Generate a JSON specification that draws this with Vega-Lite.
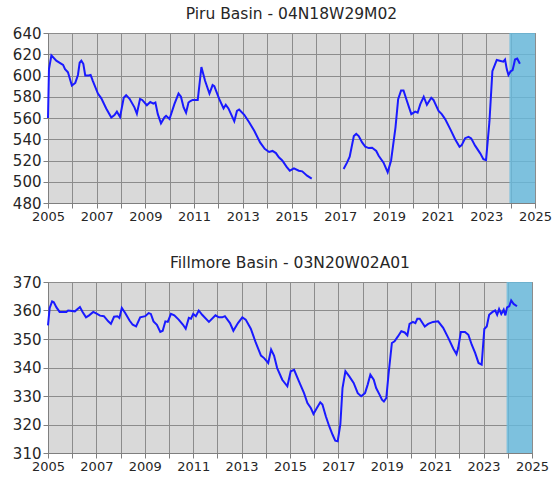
{
  "$schema": "https://vega.github.io/schema/vega-lite/v6.json",
  "background": "white",
  "padding": {"left": 11, "top": 6, "right": 10, "bottom": 2},
  "config": {
    "view": {"fill": "#d9d9d9", "stroke": "#8c8c8c"},
    "axis": {"gridColor": "#8c8c8c", "gridOpacity": 1, "domainColor": "#7f7f7f", "tickColor": "#7f7f7f", "labelColor": "#262626", "labelFont": "DejaVu Sans", "title": null, "labelFlush": false, "labelOverlap": false},
    "axisX": {"labelFontSize": 13},
    "axisY": {"labelFontSize": 15},
    "title": {"font": "DejaVu Sans", "fontSize": 15.5, "fontWeight": "normal", "color": "#262626"},
    "concat": {"spacing": 31}
  },
  "datasets": {
    "shade": [{"a": 2023.95, "b": 2025}],
    "piru": [
      {"t": 2005.0, "v": 560, "seg": 1}, {"t": 2005.04, "v": 606, "seg": 1}, {"t": 2005.14, "v": 619, "seg": 1}, {"t": 2005.34, "v": 614, "seg": 1},
      {"t": 2005.55, "v": 611, "seg": 1}, {"t": 2005.62, "v": 610, "seg": 1}, {"t": 2005.7, "v": 606, "seg": 1}, {"t": 2005.82, "v": 603, "seg": 1},
      {"t": 2005.98, "v": 590.5, "seg": 1}, {"t": 2006.12, "v": 593, "seg": 1}, {"t": 2006.23, "v": 600.5, "seg": 1}, {"t": 2006.3, "v": 612, "seg": 1},
      {"t": 2006.37, "v": 614, "seg": 1}, {"t": 2006.45, "v": 611, "seg": 1}, {"t": 2006.53, "v": 600, "seg": 1}, {"t": 2006.67, "v": 600, "seg": 1},
      {"t": 2006.75, "v": 600.5, "seg": 1}, {"t": 2006.84, "v": 595, "seg": 1}, {"t": 2007.05, "v": 583, "seg": 1}, {"t": 2007.19, "v": 578.5, "seg": 1},
      {"t": 2007.39, "v": 569, "seg": 1}, {"t": 2007.6, "v": 560.5, "seg": 1}, {"t": 2007.73, "v": 562.7, "seg": 1}, {"t": 2007.83, "v": 566, "seg": 1},
      {"t": 2007.96, "v": 561, "seg": 1}, {"t": 2008.11, "v": 579, "seg": 1}, {"t": 2008.21, "v": 581.5, "seg": 1}, {"t": 2008.35, "v": 578, "seg": 1},
      {"t": 2008.55, "v": 570, "seg": 1}, {"t": 2008.65, "v": 564, "seg": 1}, {"t": 2008.78, "v": 578, "seg": 1}, {"t": 2008.87, "v": 577, "seg": 1},
      {"t": 2009.06, "v": 572, "seg": 1}, {"t": 2009.2, "v": 575, "seg": 1}, {"t": 2009.33, "v": 573.6, "seg": 1}, {"t": 2009.41, "v": 574.6, "seg": 1},
      {"t": 2009.51, "v": 563.6, "seg": 1}, {"t": 2009.64, "v": 555, "seg": 1}, {"t": 2009.78, "v": 560.5, "seg": 1}, {"t": 2009.85, "v": 562, "seg": 1},
      {"t": 2009.99, "v": 559, "seg": 1}, {"t": 2010.19, "v": 573, "seg": 1}, {"t": 2010.36, "v": 583, "seg": 1}, {"t": 2010.46, "v": 580, "seg": 1},
      {"t": 2010.57, "v": 570, "seg": 1}, {"t": 2010.67, "v": 565, "seg": 1}, {"t": 2010.77, "v": 574.6, "seg": 1}, {"t": 2010.85, "v": 576, "seg": 1},
      {"t": 2010.94, "v": 577, "seg": 1}, {"t": 2011.15, "v": 577, "seg": 1}, {"t": 2011.3, "v": 608, "seg": 1}, {"t": 2011.45, "v": 595, "seg": 1},
      {"t": 2011.63, "v": 583, "seg": 1}, {"t": 2011.76, "v": 591, "seg": 1}, {"t": 2011.83, "v": 590, "seg": 1}, {"t": 2012.03, "v": 578, "seg": 1},
      {"t": 2012.21, "v": 569, "seg": 1}, {"t": 2012.3, "v": 572.4, "seg": 1}, {"t": 2012.41, "v": 569, "seg": 1}, {"t": 2012.65, "v": 557, "seg": 1},
      {"t": 2012.76, "v": 566.7, "seg": 1}, {"t": 2012.85, "v": 568, "seg": 1}, {"t": 2013.06, "v": 563, "seg": 1}, {"t": 2013.26, "v": 556, "seg": 1},
      {"t": 2013.47, "v": 548, "seg": 1}, {"t": 2013.71, "v": 537, "seg": 1}, {"t": 2013.9, "v": 531, "seg": 1}, {"t": 2014.08, "v": 528, "seg": 1},
      {"t": 2014.22, "v": 529, "seg": 1}, {"t": 2014.36, "v": 527, "seg": 1}, {"t": 2014.48, "v": 523, "seg": 1}, {"t": 2014.62, "v": 520, "seg": 1},
      {"t": 2014.8, "v": 514, "seg": 1}, {"t": 2014.93, "v": 510.4, "seg": 1}, {"t": 2015.1, "v": 512.6, "seg": 1}, {"t": 2015.3, "v": 510.4, "seg": 1},
      {"t": 2015.44, "v": 509.8, "seg": 1}, {"t": 2015.64, "v": 505.7, "seg": 1}, {"t": 2015.83, "v": 503, "seg": 1},
      {"t": 2017.14, "v": 512, "seg": 2}, {"t": 2017.28, "v": 518, "seg": 2}, {"t": 2017.39, "v": 523.5, "seg": 2}, {"t": 2017.56, "v": 543, "seg": 2},
      {"t": 2017.66, "v": 545, "seg": 2}, {"t": 2017.76, "v": 543, "seg": 2}, {"t": 2017.9, "v": 537, "seg": 2}, {"t": 2018.03, "v": 533, "seg": 2},
      {"t": 2018.17, "v": 531.7, "seg": 2}, {"t": 2018.31, "v": 532, "seg": 2}, {"t": 2018.48, "v": 529, "seg": 2}, {"t": 2018.58, "v": 524.5, "seg": 2},
      {"t": 2018.78, "v": 518, "seg": 2}, {"t": 2018.95, "v": 509, "seg": 2}, {"t": 2019.09, "v": 520, "seg": 2}, {"t": 2019.27, "v": 551, "seg": 2},
      {"t": 2019.38, "v": 577.7, "seg": 2}, {"t": 2019.5, "v": 586, "seg": 2}, {"t": 2019.6, "v": 586, "seg": 2}, {"t": 2019.74, "v": 576, "seg": 2},
      {"t": 2019.92, "v": 563.6, "seg": 2}, {"t": 2020.08, "v": 566, "seg": 2}, {"t": 2020.18, "v": 565, "seg": 2}, {"t": 2020.29, "v": 573, "seg": 2},
      {"t": 2020.43, "v": 580, "seg": 2}, {"t": 2020.56, "v": 572.4, "seg": 2}, {"t": 2020.74, "v": 579, "seg": 2}, {"t": 2020.83, "v": 577, "seg": 2},
      {"t": 2021.04, "v": 566.7, "seg": 2}, {"t": 2021.17, "v": 563.6, "seg": 2}, {"t": 2021.31, "v": 559, "seg": 2}, {"t": 2021.52, "v": 549.5, "seg": 2},
      {"t": 2021.72, "v": 540, "seg": 2}, {"t": 2021.9, "v": 533, "seg": 2}, {"t": 2021.99, "v": 534.5, "seg": 2}, {"t": 2022.13, "v": 541, "seg": 2},
      {"t": 2022.27, "v": 542.3, "seg": 2}, {"t": 2022.38, "v": 540.8, "seg": 2}, {"t": 2022.54, "v": 534, "seg": 2}, {"t": 2022.75, "v": 526.7, "seg": 2},
      {"t": 2022.88, "v": 521.3, "seg": 2}, {"t": 2022.99, "v": 520.4, "seg": 2}, {"t": 2023.13, "v": 557, "seg": 2}, {"t": 2023.25, "v": 604, "seg": 2},
      {"t": 2023.43, "v": 614.6, "seg": 2}, {"t": 2023.59, "v": 613.7, "seg": 2}, {"t": 2023.7, "v": 613, "seg": 2}, {"t": 2023.77, "v": 615, "seg": 2},
      {"t": 2023.84, "v": 606, "seg": 2}, {"t": 2023.91, "v": 600.5, "seg": 2}, {"t": 2024.0, "v": 604, "seg": 2}, {"t": 2024.08, "v": 605, "seg": 2},
      {"t": 2024.18, "v": 615, "seg": 2}, {"t": 2024.27, "v": 616, "seg": 2}, {"t": 2024.38, "v": 611, "seg": 2}
    ],
    "fillmore": [
      {"t": 2005.0, "v": 354.8}, {"t": 2005.07, "v": 360.9}, {"t": 2005.17, "v": 363.2}, {"t": 2005.24, "v": 362.9}, {"t": 2005.35, "v": 361.1},
      {"t": 2005.48, "v": 359.5}, {"t": 2005.76, "v": 359.5}, {"t": 2005.83, "v": 360}, {"t": 2006.11, "v": 359.7}, {"t": 2006.32, "v": 361.2},
      {"t": 2006.43, "v": 359.5}, {"t": 2006.57, "v": 357.6}, {"t": 2006.7, "v": 358.3}, {"t": 2006.87, "v": 359.5}, {"t": 2007.01, "v": 358.9},
      {"t": 2007.15, "v": 358.2}, {"t": 2007.31, "v": 358}, {"t": 2007.49, "v": 356.2}, {"t": 2007.6, "v": 355.3}, {"t": 2007.73, "v": 357.8},
      {"t": 2007.87, "v": 358}, {"t": 2007.95, "v": 357.4}, {"t": 2008.05, "v": 360.9}, {"t": 2008.19, "v": 359.1}, {"t": 2008.37, "v": 356.5},
      {"t": 2008.5, "v": 355}, {"t": 2008.64, "v": 354.4}, {"t": 2008.81, "v": 357.6}, {"t": 2009.02, "v": 358}, {"t": 2009.16, "v": 359.1},
      {"t": 2009.25, "v": 358.8}, {"t": 2009.36, "v": 356.2}, {"t": 2009.5, "v": 355}, {"t": 2009.64, "v": 352.5}, {"t": 2009.74, "v": 352.9},
      {"t": 2009.85, "v": 356.2}, {"t": 2009.95, "v": 356}, {"t": 2010.08, "v": 358.8}, {"t": 2010.22, "v": 358.3}, {"t": 2010.4, "v": 356.8},
      {"t": 2010.58, "v": 355}, {"t": 2010.69, "v": 353.6}, {"t": 2010.82, "v": 357.4}, {"t": 2010.91, "v": 357.1}, {"t": 2011.0, "v": 358.8},
      {"t": 2011.11, "v": 358}, {"t": 2011.23, "v": 360}, {"t": 2011.37, "v": 358.5}, {"t": 2011.65, "v": 356}, {"t": 2011.92, "v": 358.3},
      {"t": 2012.06, "v": 357.6}, {"t": 2012.2, "v": 357.6}, {"t": 2012.31, "v": 358}, {"t": 2012.52, "v": 355.6}, {"t": 2012.66, "v": 352.9},
      {"t": 2012.85, "v": 355.6}, {"t": 2013.03, "v": 357.6}, {"t": 2013.17, "v": 356.8}, {"t": 2013.38, "v": 353.6}, {"t": 2013.59, "v": 348.6},
      {"t": 2013.8, "v": 344.2}, {"t": 2013.93, "v": 343.3}, {"t": 2014.1, "v": 341.6}, {"t": 2014.22, "v": 346.3}, {"t": 2014.34, "v": 344.2},
      {"t": 2014.47, "v": 339.8}, {"t": 2014.68, "v": 335.7}, {"t": 2014.89, "v": 333.4}, {"t": 2015.03, "v": 338.7}, {"t": 2015.17, "v": 339.2},
      {"t": 2015.37, "v": 335.1}, {"t": 2015.58, "v": 331}, {"t": 2015.72, "v": 327.5}, {"t": 2015.86, "v": 325.8}, {"t": 2015.97, "v": 323.7},
      {"t": 2016.11, "v": 325.8}, {"t": 2016.25, "v": 327.8}, {"t": 2016.34, "v": 327}, {"t": 2016.48, "v": 322.9}, {"t": 2016.62, "v": 319.4},
      {"t": 2016.76, "v": 316.4}, {"t": 2016.87, "v": 314.3}, {"t": 2016.97, "v": 314.1}, {"t": 2017.08, "v": 320}, {"t": 2017.17, "v": 332.8},
      {"t": 2017.29, "v": 338.7}, {"t": 2017.45, "v": 336.9}, {"t": 2017.63, "v": 334.6}, {"t": 2017.8, "v": 331}, {"t": 2017.94, "v": 329.9},
      {"t": 2018.1, "v": 331}, {"t": 2018.21, "v": 334}, {"t": 2018.32, "v": 337.5}, {"t": 2018.46, "v": 335.7}, {"t": 2018.56, "v": 332.8},
      {"t": 2018.7, "v": 330.5}, {"t": 2018.8, "v": 328.7}, {"t": 2018.88, "v": 328.1}, {"t": 2018.98, "v": 329.3}, {"t": 2019.07, "v": 337.5},
      {"t": 2019.21, "v": 348.6}, {"t": 2019.32, "v": 349.2}, {"t": 2019.46, "v": 350.9}, {"t": 2019.6, "v": 352.7}, {"t": 2019.74, "v": 352.3},
      {"t": 2019.85, "v": 351.3}, {"t": 2019.94, "v": 355.3}, {"t": 2020.08, "v": 356}, {"t": 2020.18, "v": 355.6}, {"t": 2020.26, "v": 357.1},
      {"t": 2020.36, "v": 357.1}, {"t": 2020.57, "v": 354.4}, {"t": 2020.71, "v": 355.3}, {"t": 2020.91, "v": 356}, {"t": 2021.12, "v": 356.2},
      {"t": 2021.33, "v": 353.9}, {"t": 2021.54, "v": 350.4}, {"t": 2021.75, "v": 346.6}, {"t": 2021.88, "v": 344.7}, {"t": 2021.95, "v": 346.8},
      {"t": 2022.06, "v": 352.5}, {"t": 2022.23, "v": 352.5}, {"t": 2022.37, "v": 351.5}, {"t": 2022.51, "v": 348}, {"t": 2022.65, "v": 345.1},
      {"t": 2022.79, "v": 341.6}, {"t": 2022.92, "v": 341}, {"t": 2023.03, "v": 353.5}, {"t": 2023.13, "v": 354.4}, {"t": 2023.23, "v": 358.5},
      {"t": 2023.37, "v": 359.5}, {"t": 2023.48, "v": 360}, {"t": 2023.56, "v": 358.5}, {"t": 2023.64, "v": 360.5}, {"t": 2023.73, "v": 358.8},
      {"t": 2023.83, "v": 360.3}, {"t": 2023.9, "v": 358.3}, {"t": 2023.97, "v": 361.1}, {"t": 2024.06, "v": 361.5}, {"t": 2024.14, "v": 363.5},
      {"t": 2024.24, "v": 362.3}, {"t": 2024.38, "v": 361.5}
    ]
  },
  "vconcat": [
    {
      "title": "Piru Basin - 04N18W29M02",
      "width": 487,
      "height": 170,
      "layer": [
        {
          "data": {"name": "shade"},
          "mark": {"type": "rect", "color": "#65badf", "opacity": 0.8},
          "encoding": {
            "x": {"field": "a", "type": "quantitative", "scale": {"domain": [2005, 2025], "nice": false}, "axis": {"values": [2005,2006,2007,2008,2009,2010,2011,2012,2013,2014,2015,2016,2017,2018,2019,2020,2021,2022,2023,2024,2025], "format": "d", "labelExpr": "datum.value % 2 == 1 ? datum.label : ''"}},
            "x2": {"field": "b"}
          }
        },
        {
          "data": {"name": "piru"},
          "mark": {"type": "line", "color": "#1a1aff", "strokeWidth": 2},
          "encoding": {
            "x": {"field": "t", "type": "quantitative", "scale": {"domain": [2005, 2025], "nice": false}, "axis": {"values": [2005,2006,2007,2008,2009,2010,2011,2012,2013,2014,2015,2016,2017,2018,2019,2020,2021,2022,2023,2024,2025], "format": "d", "labelExpr": "datum.value % 2 == 1 ? datum.label : ''"}},
            "y": {"field": "v", "type": "quantitative", "scale": {"domain": [480, 640], "nice": false, "zero": false}, "axis": {"values": [480,500,520,540,560,580,600,620,640]}},
            "detail": {"field": "seg"}
          }
        }
      ]
    },
    {
      "title": "Fillmore Basin - 03N20W02A01",
      "width": 484,
      "height": 171,
      "layer": [
        {
          "data": {"name": "shade"},
          "mark": {"type": "rect", "color": "#65badf", "opacity": 0.8},
          "encoding": {
            "x": {"field": "a", "type": "quantitative", "scale": {"domain": [2005, 2025], "nice": false}, "axis": {"values": [2005,2006,2007,2008,2009,2010,2011,2012,2013,2014,2015,2016,2017,2018,2019,2020,2021,2022,2023,2024,2025], "format": "d", "labelExpr": "datum.value % 2 == 1 ? datum.label : ''"}},
            "x2": {"field": "b"}
          }
        },
        {
          "data": {"name": "fillmore"},
          "mark": {"type": "line", "color": "#1a1aff", "strokeWidth": 2},
          "encoding": {
            "x": {"field": "t", "type": "quantitative", "scale": {"domain": [2005, 2025], "nice": false}, "axis": {"values": [2005,2006,2007,2008,2009,2010,2011,2012,2013,2014,2015,2016,2017,2018,2019,2020,2021,2022,2023,2024,2025], "format": "d", "labelExpr": "datum.value % 2 == 1 ? datum.label : ''"}},
            "y": {"field": "v", "type": "quantitative", "scale": {"domain": [310, 370], "nice": false, "zero": false}, "axis": {"values": [310,320,330,340,350,360,370]}}
          }
        }
      ]
    }
  ]
}
